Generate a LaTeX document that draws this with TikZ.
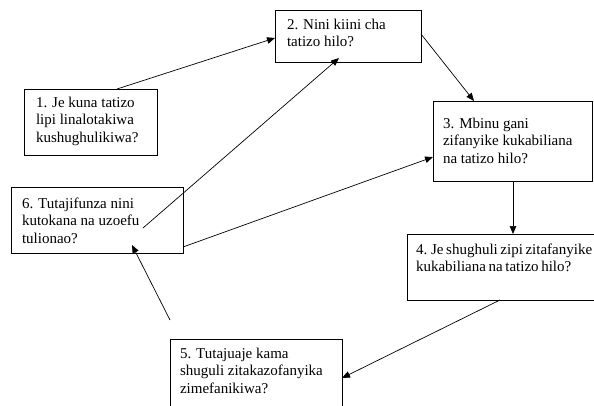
\documentclass[tikz,border=0pt]{standalone}
\usepackage{fontspec}
\setmainfont{Liberation Serif}
\usetikzlibrary{calc,arrows.meta}
\newcommand{\bxt}[5]{\parbox[t][#2][t]{#1}{\leftskip=#3\relax\rule{0pt}{#4}#5}}
\begin{document}
\begin{tikzpicture}[x=1pt,y=-1pt,
  font=\fontsize{15}{17.5}\selectfont,
  box/.style={draw, line width=0.9pt, inner sep=0pt, outer sep=0pt, anchor=north west},
  conn/.style={line width=0.7pt, -{Triangle[length=8pt,width=6.5pt]}}]
\useasboundingbox (0,0) rectangle (594,405);
\fill[white] (0,0) rectangle (594,405);
\clip (0,0) rectangle (594,405);
\node[box] (b1) at (24,89) {\bxt{133pt}{66pt}{12pt}{18pt}{1. Je kuna tatizo\\lipi linalotakiwa\\kushughulikiwa?}};
\node[box] (b2) at (275,10) {\bxt{146pt}{52pt}{12pt}{19pt}{2. Nini kiini cha\\tatizo hilo?}};
\node[box] (b3) at (433,101) {\bxt{159pt}{80pt}{10pt}{27pt}{3. Mbinu gani\\zifanyike kukabiliana\\na tatizo hilo?}};
\node[box] (b4) at (407,234) {\bxt{200pt}{66pt}{9pt}{20pt}{\spaceskip=2.6pt\relax 4. Je shughuli zipi zitafanyike\\kukabiliana na tatizo hilo?}};
\node[box] (b6) at (11,187) {\bxt{172pt}{66pt}{11pt}{21pt}{6. Tutajifunza nini\\kutokana na uzoefu\\tulionao?}};
\node[box] (b5) at (170,339) {\bxt{172pt}{80pt}{10pt}{19pt}{5. Tutajuaje kama\\shuguli zitakazofanyika\\zimefanikiwa?}};
\coordinate (f5) at (170,320);
\draw[conn] ($(b1.north west)+(93,0)$) -- ($(b2.north west)+(0,28)$);
\draw[conn] ($(b2.north east)+(0,24)$) -- ($(b3.north west)+(41,0)$);
\draw[conn] ($(b6.north west)+(132,41)$) -- ($(b2.south west)+(64,-4)$);
\draw[conn] ($(b6.south east)+(0,-6)$) -- ($(b3.south west)+(0,-24)$);
\draw[conn] ($(b3.south west)+(80,0)$) -- ($(b4.north west)+(106,0)$);
\draw[conn] ($(b4.south west)+(93,0)$) -- ($(b5.north east)+(0,39)$);
\draw[conn] (f5) -- ($(b6.south west)+(121,-8)$);
\end{tikzpicture}
\end{document}
